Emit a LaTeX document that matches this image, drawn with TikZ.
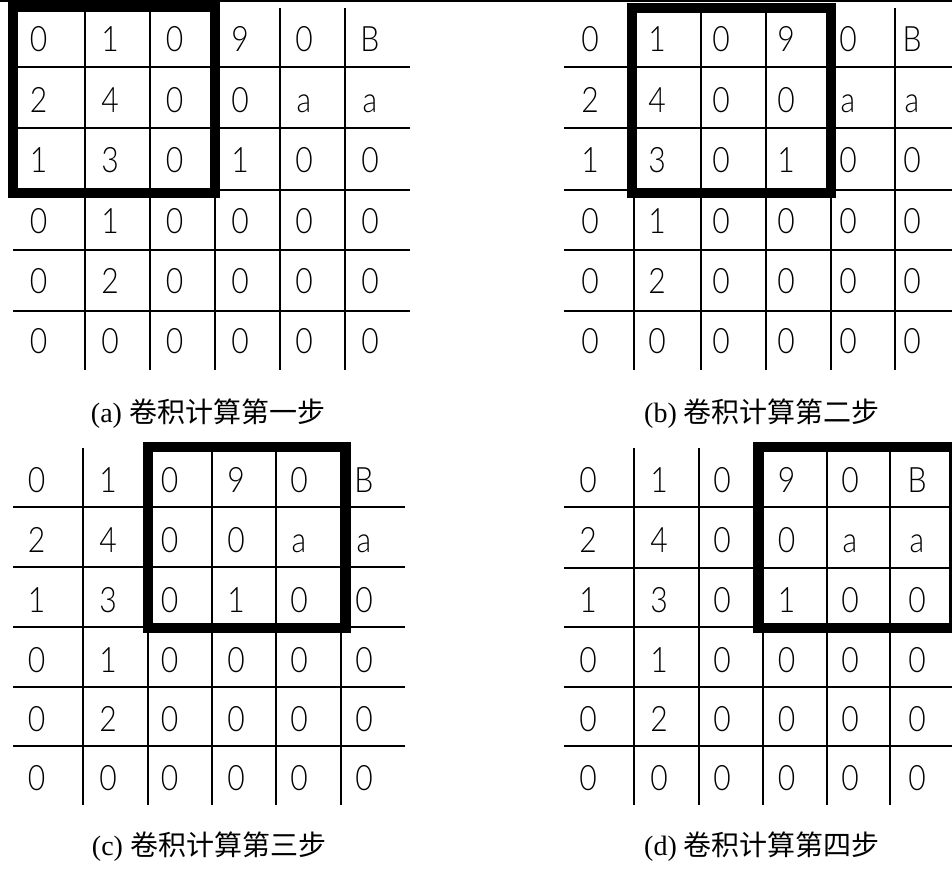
\documentclass[tikz,border=0pt]{standalone}
\usepackage{fontspec}
\newfontfamily\cellfont{Lato Light}[FakeStretch=0.86]
\newfontfamily\capserif{Liberation Serif}
\newfontfamily\cjk{Noto Sans CJK SC}
\tikzset{
  gridline/.style={line width=1.6pt, black},
  winbox/.style={line width=10pt, black},
  cell/.style={inner sep=0pt, anchor=base, font=\cellfont\fontsize{35}{40}\selectfont},
  captext/.style={inner sep=0pt, font=\fontsize{28}{32}\selectfont}
}
\newcommand\vallist{{0,1,0,9,0,B},{2,4,0,0,a,a},{1,3,0,1,0,0},{0,1,0,0,0,0},{0,2,0,0,0,0},{0,0,0,0,0,0}}
% #1 prefix, #2 x array, #3 y array
\newcommand\panelcells[3]{%
  \foreach \row [count=\r] in \vallist {
    \foreach \v [count=\c] in \row {
      \pgfmathsetmacro\xx{#2[\c-1]}
      \pgfmathsetmacro\yy{#3[\r-1]}
      \node[cell] (#1-\r-\c) at (\xx,\yy) {\v};
    }
  }%
}
\begin{document}
\begin{tikzpicture}[x=1pt,y=-1pt]
\useasboundingbox (0,0) rectangle (952,869);
% top rule
\draw[line width=2.5pt] (0,1.25) -- (952,1.25);

% ---------- panel (a)
\foreach \y in {67,128,190,250,311} \draw[gridline] (13,\y) -- (410,\y);
\foreach \x in {85,150,215,280,345} \draw[gridline] (\x,8) -- (\x,370);
\panelcells{a}{{38.5,110,174.5,240,304,370}}{{52,113,172,233,293,353}}
\draw[winbox] (13,7) rectangle (214.5,192.5);
\node[captext] (capa) at (208,414) {\capserif (a) \cjk 卷积计算第一步};

% ---------- panel (b)
\foreach \y in {67,128,190,250,311} \draw[gridline] (564,\y) -- (960,\y);
\foreach \x in {634,701,766,831,895} \draw[gridline] (\x,8) -- (\x,370);
\panelcells{b}{{590,657,721,786,848,912}}{{52,113,172,233,293,353}}
\draw[winbox] (632,8) rectangle (831,192.5);
\node[captext] (capb) at (762,414) {\capserif (b) \cjk 卷积计算第二步};

% ---------- panel (c)
\foreach \y in {507,567,627,687,746} \draw[gridline] (13,\y) -- (405,\y);
\foreach \x in {83,148,212,276,341} \draw[gridline] (\x,448) -- (\x,805);
\panelcells{c}{{36.5,108,169.5,236,299,364}}{{492,552,612,672,731.5,790}}
\draw[winbox] (148,446.5) rectangle (346,628);
\node[captext] (capc) at (209,847) {\capserif (c) \cjk 卷积计算第三步};

% ---------- panel (d)
\foreach \y in {507,568,627,687,746} \draw[gridline] (564,\y) -- (960,\y);
\foreach \x in {634,699,763,827,890} \draw[gridline] (\x,448) -- (\x,805);
\panelcells{d}{{588,659,722,786.5,850,917}}{{492,552,612,672,731.5,790}}
\draw[winbox] (757.5,446.5) rectangle (954,628);
\node[captext] (capd) at (762,847) {\capserif (d) \cjk 卷积计算第四步};
\end{tikzpicture}
\end{document}
